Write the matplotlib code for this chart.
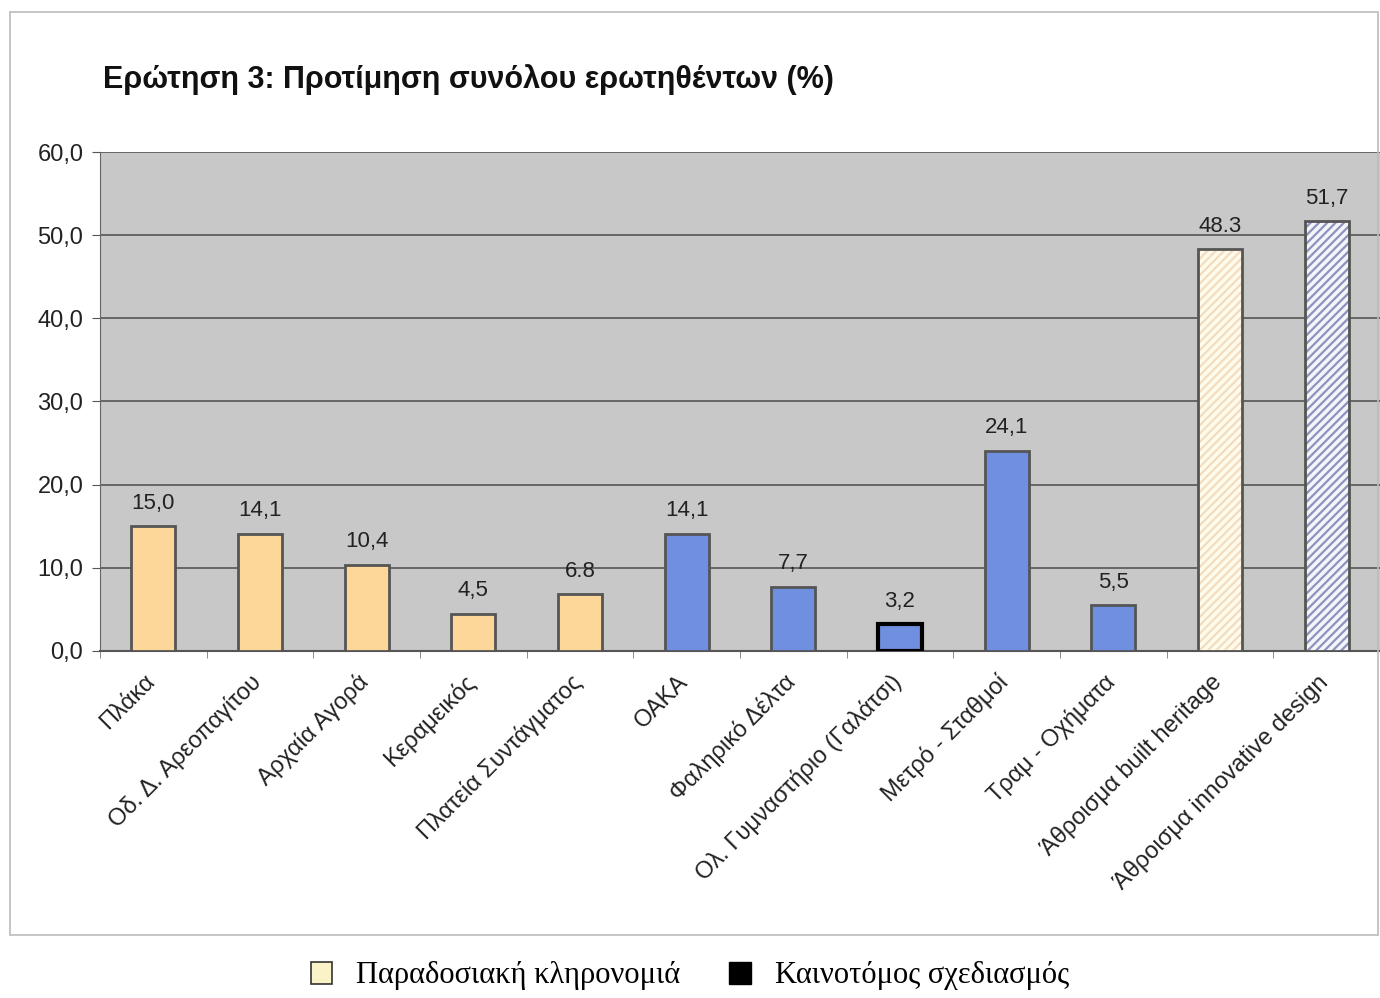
import matplotlib
matplotlib.use("Agg")
import matplotlib.pyplot as plt
import matplotlib.patches as mpatches
import matplotlib.transforms as mtransforms
import numpy as np

plt.rcParams['font.family'] = ['Liberation Sans', 'DejaVu Sans']
plt.rcParams['hatch.linewidth'] = 1.6

categories = ["Πλάκα", "Οδ. Δ. Αρεοπαγίτου", "Αρχαία Αγορά", "Κεραμεικός",
              "Πλατεία Συντάγματος", "ΟΑΚΑ", "Φαληρικό Δέλτα",
              "Ολ. Γυμναστήριο (Γαλάτσι)", "Μετρό - Σταθμοί", "Τραμ - Οχήματα",
              "Άθροισμα built heritage", "Άθροισμα innovative design"]
values = [15.0, 14.1, 10.4, 4.5, 6.8, 14.1, 7.7, 3.2, 24.1, 5.5, 48.3, 51.7]
value_labels = ["15,0", "14,1", "10,4", "4,5", "6.8", "14,1", "7,7", "3,2",
                "24,1", "5,5", "48.3", "51,7"]
groups = ["heritage"] * 5 + ["design"] * 5 + ["sum_heritage", "sum_design"]
yticks = [0, 10, 20, 30, 40, 50, 60]
ytick_labels = ["0,0", "10,0", "20,0", "30,0", "40,0", "50,0", "60,0"]

orange = "#fdd699"
blue = "#6f8fe0"
edge = "#555555"

fig = plt.figure(figsize=(13.8, 9.98), dpi=100)
# outer chart frame
fig.patches.append(mpatches.Rectangle((10 / 1380, 1 - 935 / 998), 1368 / 1380, 923 / 998,
                                      transform=fig.transFigure, fill=False,
                                      edgecolor="#bbbbbb", linewidth=1.2))

ax = fig.add_axes([100 / 1380, 1 - 651 / 998, 1280 / 1380, 499 / 998])
ax.set_facecolor("#c8c8c8")

x = np.arange(len(categories))
w = 0.41
for i, (v, g) in enumerate(zip(values, groups)):
    if g == "heritage":
        ax.bar(x[i], v, w, color=orange, edgecolor=edge, linewidth=2, zorder=3)
    elif g == "design":
        ec = "black" if i == 7 else edge
        lw = 3 if i == 7 else 2
        ax.bar(x[i], v, w, color=blue, edgecolor=ec, linewidth=lw, zorder=3)
    elif g == "sum_heritage":
        ax.bar(x[i], v, w, color="#fffbec", edgecolor="none", zorder=3)
        ax.bar(x[i], v, w, color="none", edgecolor="#f3dcc0", hatch="////", linewidth=0, zorder=4)
        ax.bar(x[i], v, w, color="none", edgecolor=edge, linewidth=2, zorder=5)
    else:
        ax.bar(x[i], v, w, color="#f4f4fb", edgecolor="none", zorder=3)
        ax.bar(x[i], v, w, color="none", edgecolor="#8c93bd", hatch="////", linewidth=0, zorder=4)
        ax.bar(x[i], v, w, color="none", edgecolor=edge, linewidth=2, zorder=5)
    ax.text(x[i], v + 1.5, value_labels[i], ha="center", va="bottom",
            fontsize=16, color="#222222", zorder=6)

ax.set_xlim(-0.5, len(categories) - 0.5)
ax.set_ylim(0, 60)
ax.set_yticks(yticks)
ax.set_yticklabels(ytick_labels, fontsize=17, color="#222222")
ax.yaxis.grid(True, color="#555555", linewidth=1.2, zorder=1)
ax.set_axisbelow(True)

ax.set_xticks(x)
ax.set_xticklabels(categories, rotation=45, ha="right", rotation_mode="anchor",
                   fontsize=17, color="#222222")
ax.tick_params(axis="x", length=0, pad=14)
# nudge labels a bit to the left, as in the original
offset = mtransforms.ScaledTranslation(-10 / 100, 0, fig.dpi_scale_trans)
for lab in ax.get_xticklabels():
    lab.set_transform(lab.get_transform() + offset)
ax.set_xticks(np.arange(-0.5, len(categories), 1), minor=True)
ax.tick_params(axis="x", which="minor", length=5, color="#777777")
ax.tick_params(axis="y", length=6, color="#555555", pad=6)

for s in ["top", "right"]:
    ax.spines[s].set_visible(False)
ax.spines["left"].set_color("#666666")
ax.spines["bottom"].set_color("#555555")
ax.spines["bottom"].set_linewidth(1.5)

fig.text(103 / 1380, 1 - 80 / 998, "Ερώτηση 3: Προτίμηση συνόλου ερωτηθέντων (%)",
         fontsize=22, fontweight="bold", va="center", ha="left", color="#111111")

handles = [mpatches.Patch(facecolor="#fbf3c8", edgecolor="#333333", linewidth=1.2,
                          label="Παραδοσιακή κληρονομιά"),
           mpatches.Patch(facecolor="black", edgecolor="black",
                          label="Καινοτόμος σχεδιασμός")]
fig.legend(handles=handles, loc="center", bbox_to_anchor=(690 / 1380, 1 - 976 / 998),
           ncol=2, frameon=False, handlelength=0.7, handleheight=0.7,
           columnspacing=1.6, handletextpad=0.8,
           prop={"family": "Liberation Serif", "size": 22})

fig.savefig("out.png", dpi=100)
